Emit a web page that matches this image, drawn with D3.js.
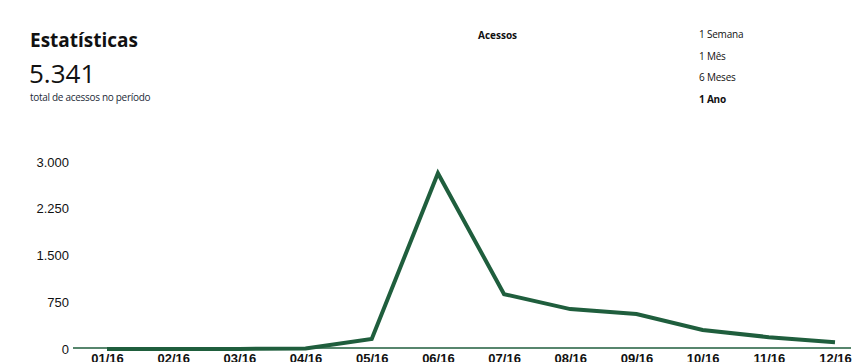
<!DOCTYPE html>
<html>
<head>
<meta charset="utf-8">
<script src="https://cdn.jsdelivr.net/npm/d3@7"></script>
<style>
  html, body { margin: 0; padding: 0; background: #fff; }
  svg { display: block; }
</style>
</head>
<body>
<svg id="chart" width="857" height="362"></svg>
<script>
// Monthly access counts for the year
const months = ["01/16","02/16","03/16","04/16","05/16","06/16","07/16","08/16","09/16","10/16","11/16","12/16"];
const accesses = [0, 0, 0, 10, 160, 2820, 880, 640, 560, 305, 190, 110];
const yTicks = [0, 750, 1500, 2250, 3000];
const periods = ["1 Semana", "1 Mês", "6 Meses", "1 Ano"];
const activePeriod = "1 Ano";
const totalLabel = "5.341";

const svg = d3.select("#chart");
const lineColor = "#1f5e3d";

const x = d3.scalePoint().domain(months).range([107, 835]);
const y = d3.scaleLinear().domain([0, 3000]).range([349, 162]);

// Header
svg.append("text").attr("x", 30).attr("y", 47)
  .attr("font-family", "'Open Sans', sans-serif").attr("font-weight", 700)
  .attr("font-size", 19).attr("fill", "#111").text("Estatísticas");
svg.append("text").attr("x", 29).attr("y", 83)
  .attr("font-family", "'Open Sans', sans-serif").attr("font-size", 26)
  .attr("fill", "#111").text(totalLabel);
svg.append("text").attr("x", 30).attr("y", 101)
  .attr("font-family", "'Open Sans', sans-serif").attr("font-size", 10)
  .attr("letter-spacing", -0.3).attr("fill", "#1c2a38").text("total de acessos no período");

svg.append("text").attr("x", 478).attr("y", 39)
  .attr("font-family", "'Open Sans', sans-serif").attr("font-weight", 700)
  .attr("font-size", 10).attr("fill", "#111").text("Acessos");

svg.append("g").selectAll("text").data(periods).join("text")
  .attr("x", 699).attr("y", (d, i) => 38 + i * 21.7)
  .attr("font-family", "'Open Sans', sans-serif")
  .attr("font-size", 10).attr("letter-spacing", -0.2)
  .attr("font-weight", d => d === activePeriod ? 700 : 400)
  .attr("fill", "#111").text(d => d);

// Y axis labels
const yAxis = d3.axisLeft(y).tickValues(yTicks).tickSize(0).tickPadding(0)
  .tickFormat(d => d3.format(",")(d).replace(/,/g, "."));
const gy = svg.append("g").attr("transform", "translate(69,0)").call(yAxis);
gy.select(".domain").remove();
gy.selectAll("text").attr("font-family", "'Liberation Sans', Arial, sans-serif")
  .attr("font-size", 13).attr("fill", "#111");

// X axis baseline
svg.append("line").attr("x1", 73).attr("x2", 851)
  .attr("y1", y(0) - 1).attr("y2", y(0) - 1)
  .attr("stroke", lineColor).attr("stroke-width", 1.5);

const xAxis = d3.axisBottom(x).tickSize(0).tickPadding(0);
const gx = svg.append("g").attr("transform", `translate(0,${y(0) + 3})`).call(xAxis);
gx.select(".domain").remove();
gx.selectAll("text").attr("font-family", "'Liberation Sans', Arial, sans-serif")
  .attr("font-size", 13).attr("font-weight", 700).attr("fill", "#111")
  .attr("dy", "0.85em");

// Access line
const line = d3.line().x((d, i) => x(months[i])).y(d => y(d));
svg.append("path").datum(accesses)
  .attr("d", line).attr("fill", "none")
  .attr("stroke", lineColor).attr("stroke-width", 4)
  .attr("stroke-linejoin", "miter");
</script>
</body>
</html>
